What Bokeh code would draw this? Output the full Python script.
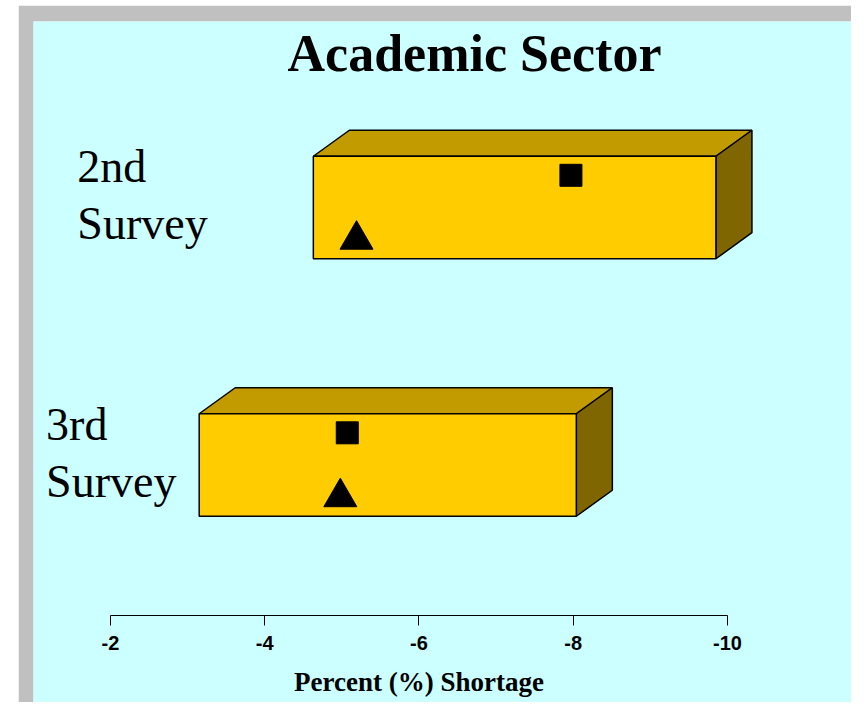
from bokeh.plotting import figure
from bokeh.models import Range1d, Label, FixedTicker
from bokeh.embed import file_html
from bokeh.resources import INLINE
from bokeh.core.properties import value

# ---- data ----
surveys = ["2nd\nSurvey", "3rd\nSurvey"]
range_start = [-4.63, -3.15]      # left end of each bar (% shortage)
range_end = [-9.85, -8.04]        # right end of each bar (% shortage)
square_values = [-7.97, -5.07]
triangle_values = [-5.19, -4.98]
x_ticks = [-2, -4, -6, -8, -10]
title_text = "Academic Sector"
x_label = "Percent (%) Shortage"

# ---- style / layout constants ----
CYAN = "#CCFFFF"
GRAY = "#C0C0C0"
FRONT = "#FFCC00"
TOP = "#C29B00"
SIDE = "#806600"
HALF = 0.199          # half bar height (category units)
DX = -0.467           # 3D depth in x (data units, towards the right)
DY = 0.101            # 3D depth in y
ROW_OFF = 0.125       # marker row offset from bar centre
LABEL_X = [-1.57, -1.165]

n = len(surveys)
pos = [n - i for i in range(n)]

p = figure(width=833, height=697, output_backend="svg", toolbar_location=None,
           x_range=Range1d(-1.0016, -11.608), y_range=Range1d(0.0777, 2.7223),
           min_border_left=15, min_border_top=16, min_border_right=0, min_border_bottom=0,
           margin=(5, 0, 0, 18))
p.background_fill_color = CYAN
p.border_fill_color = GRAY
p.outline_line_color = None
p.grid.visible = False
p.yaxis.visible = False

# bars (3D boxes)
bottoms = [y - HALF for y in pos]
tops = [y + HALF for y in pos]
top_xs = [[s, e, e + DX, s + DX] for s, e in zip(range_start, range_end)]
top_ys = [[t, t, t + DY, t + DY] for t in tops]
side_xs = [[e, e + DX, e + DX, e] for e in range_end]
side_ys = [[t, t + DY, b + DY, b] for t, b in zip(tops, bottoms)]

p.patches(top_xs, top_ys, fill_color=TOP, line_color="black", line_width=1.5)
p.patches(side_xs, side_ys, fill_color=SIDE, line_color="black", line_width=1.5)
p.quad(left=range_start, right=range_end, bottom=bottoms, top=tops,
       fill_color=FRONT, line_color="black", line_width=1.5)

# markers
p.scatter(square_values, [y + ROW_OFF for y in pos], marker="square", size=22,
          fill_color="black", line_color="black")
p.scatter(triangle_values, [y - ROW_OFF for y in pos], marker="triangle", size=33,
          fill_color="black", line_color="black")

# category labels
l1 = [s.split("\n")[0] for s in surveys]
l2 = [s.split("\n")[1] for s in surveys]
p.text(LABEL_X, pos, text=l1, y_offset=-41, text_align="left", text_baseline="alphabetic",
       text_font=value("Liberation Serif"), text_font_size="46px", text_color="black")
p.text(LABEL_X, pos, text=l2, y_offset=16, text_align="left", text_baseline="alphabetic",
       text_font=value("Liberation Serif"), text_font_size="46px", text_color="black")

# title
p.add_layout(Label(x=-6.72, y=2.5977, text=title_text, text_align="center",
                   text_baseline="alphabetic", text_font="Liberation Serif",
                   text_font_style="bold", text_font_size="52px", text_color="black"))

# x axis inside the frame
ax = p.xaxis[0]
ax.fixed_location = 0.4155
ax.bounds = (min(x_ticks), max(x_ticks))
ax.ticker = FixedTicker(ticks=x_ticks)
ax.major_label_overrides = {t: str(t) for t in x_ticks}
ax.minor_tick_line_color = None
ax.major_tick_in = 0
ax.major_tick_out = 10
ax.axis_line_color = "black"
ax.major_tick_line_color = "black"
ax.major_label_text_font = "Liberation Sans"
ax.major_label_text_font_style = "bold"
ax.major_label_text_font_size = "20px"
ax.major_label_text_color = "black"
ax.major_label_standoff = 10
ax.axis_label = x_label
ax.axis_label_text_font = "Liberation Serif"
ax.axis_label_text_font_style = "bold"
ax.axis_label_text_font_size = "27px"
ax.axis_label_text_color = "black"
ax.axis_label_standoff = 14

open("out.html", "w").write(file_html(p, INLINE))
